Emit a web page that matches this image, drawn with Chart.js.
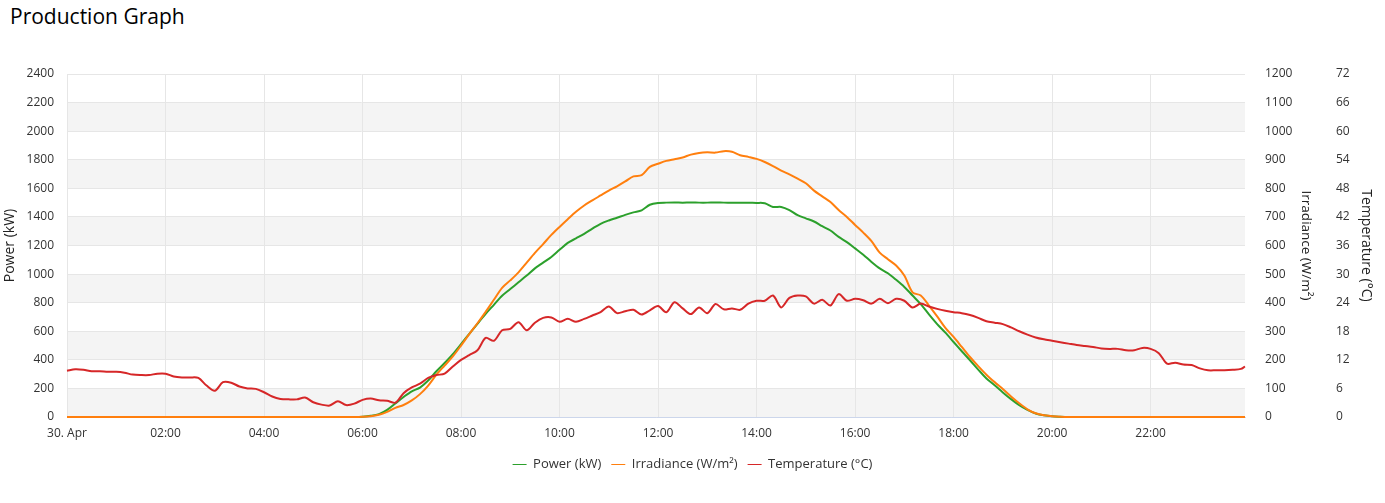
<!DOCTYPE html>
<html>
<head>
<meta charset="utf-8">
<script src="https://cdn.jsdelivr.net/npm/chart.js@4/dist/chart.umd.min.js"></script>
<style>
    body { margin: 0; background: #fff; }
    #title {
        position: absolute; left: 10px; top: 2px;
        font: 21px "Open Sans", sans-serif; color: #000;
    }
    #chart { position: absolute; left: 0; top: 0; }
</style>
</head>
<body>
<div id="title">Production Graph</div>
<canvas id="chart" width="1385" height="503"></canvas>
<script>
// minutes since midnight, every 10 min, last sample 23:55
const times = [];
for (let t = 0; t < 1440; t += 10) times.push(t);
times.push(1435);

// x axis ticks every two hours (minutes)
const xTicks = [0, 120, 240, 360, 480, 600, 720, 840, 960, 1080, 1200, 1320];

const power = [
    0, 0, 0, 0, 0, 0, 0, 0, 0, 0, 0, 0, 0, 0, 0, 0, 0, 0,
    0, 0, 0, 0, 0, 0, 0, 0, 0, 0, 0, 0, 0, 0, 0, 0, 0, 0,
    2, 8, 20, 50, 95, 140, 180, 206, 255, 320, 378, 440,
    510, 582, 652, 722, 785, 848, 895, 943, 990, 1040, 1080, 1120,
    1170, 1218, 1250, 1282, 1318, 1352, 1375, 1394, 1414, 1432, 1446, 1485,
    1498, 1500, 1501, 1500, 1501, 1500, 1500, 1501, 1500, 1500, 1499, 1499,
    1498, 1496, 1470, 1470, 1448, 1412, 1390, 1368, 1335, 1305, 1260, 1224,
    1180, 1135, 1085, 1040, 1006, 960, 910, 850, 790, 718, 650, 590,
    525, 460, 397, 332, 270, 222, 172, 125, 83, 50, 25, 12,
    5, 2, 0, 0, 0, 0, 0, 0, 0, 0, 0, 0,
    0, 0, 0, 0, 0, 0, 0, 0, 0, 0, 0, 0, 0
];

const irradiance = [
    0, 0, 0, 0, 0, 0, 0, 0, 0, 0, 0, 0, 0, 0, 0, 0, 0, 0,
    0, 0, 0, 0, 0, 0, 0, 0, 0, 0, 0, 0, 0, 0, 0, 0, 0, 0,
    1, 3, 8, 18, 32, 42, 58, 80, 110, 148, 180, 212,
    250, 290, 328, 368, 410, 452, 478, 506, 540, 574, 605, 637,
    665, 692, 718, 740, 758, 775, 792, 807, 824, 842, 846, 875,
    886, 896, 902, 908, 918, 924, 926, 925, 930, 928, 916, 910,
    903, 892, 878, 862, 849, 834, 818, 792, 772, 752, 724, 700,
    672, 645, 615, 575, 552, 530, 495, 436, 425, 390, 352, 312,
    280, 245, 210, 178, 148, 122, 98, 72, 48, 27, 13, 6,
    3, 1, 0, 0, 0, 0, 0, 0, 0, 0, 0, 0,
    0, 0, 0, 0, 0, 0, 0, 0, 0, 0, 0, 0, 0
];

const temperature = [
    9.7, 10.0, 9.9, 9.6, 9.6, 9.5, 9.5, 9.3, 8.9, 8.8, 8.8, 9.1,
    9.1, 8.5, 8.3, 8.3, 8.2, 6.6, 5.5, 7.3, 7.2, 6.4, 6.0, 5.9,
    5.2, 4.3, 3.8, 3.7, 3.7, 4.1, 3.1, 2.6, 2.4, 3.3, 2.5, 2.8,
    3.6, 3.9, 3.5, 3.4, 3.0, 5.0, 6.2, 7.0, 8.2, 8.8, 9.1, 10.6,
    12.0, 13.0, 14.0, 16.6, 16.0, 18.2, 18.5, 19.9, 18.2, 19.8, 20.8, 20.9,
    20.0, 20.6, 20.0, 20.6, 21.3, 22.0, 23.2, 21.8, 22.2, 22.5, 21.5, 22.4,
    23.3, 22.0, 24.1, 22.8, 21.6, 23.0, 21.8, 23.7, 22.6, 22.8, 22.5, 23.8,
    24.4, 24.4, 25.5, 23.0, 25.0, 25.5, 25.3, 23.8, 24.6, 23.4, 25.8, 24.4,
    24.8, 24.5, 23.8, 24.8, 23.9, 24.8, 24.4, 23.0, 23.8, 23.2, 22.7, 22.3,
    22.0, 21.8, 21.4, 20.8, 20.1, 19.8, 19.5, 18.8, 18.0, 17.3, 16.7, 16.3,
    16.0, 15.7, 15.4, 15.1, 14.9, 14.7, 14.4, 14.3, 14.3, 14.0, 14.0, 14.5,
    14.3, 13.4, 11.2, 11.4, 11.0, 10.9, 10.2, 9.8, 9.8, 9.8, 9.9, 10.1,
    10.6
];

const seriesNames = ["Power (kW)", "Irradiance (W/m²)", "Temperature (°C)"];
const seriesColors = ["#2ca02c", "#ff7f0e", "#d62728"];

const FONT = '"Open Sans", sans-serif';
const TXT = "#333333";

function toPoints(values) {
    return times.map((t, i) => ({ x: t, y: values[i] }));
}

function timeLabel(v) {
    if (v === 0) return "30. Apr";
    const h = Math.floor(v / 60);
    return (h < 10 ? "0" : "") + h + ":00";
}

// alternating grey bands on the power axis
const bandPlugin = {
    id: "bands",
    beforeDraw(chart) {
        const { ctx, chartArea } = chart;
        const y = chart.scales.y;
        const ticks = y.ticks;
        ctx.save();
        ctx.fillStyle = "#f4f4f4";
        for (let i = 0; i < ticks.length - 1; i += 2) {
            const top = y.getPixelForValue(ticks[i + 1].value);
            const bottom = y.getPixelForValue(ticks[i].value);
            ctx.fillRect(chartArea.left, top, chartArea.right - chartArea.left, bottom - top);
        }
        ctx.restore();
    }
};

const plainNum = v => String(v);

// datasets listed top-most first; legend is reversed back to Power, Irradiance, Temperature
new Chart(document.getElementById("chart"), {
    type: "line",
    data: {
        datasets: [
            { label: seriesNames[2], data: toPoints(temperature), yAxisID: "yTemp",
              borderColor: seriesColors[2], backgroundColor: seriesColors[2] },
            { label: seriesNames[1], data: toPoints(irradiance), yAxisID: "yIrr",
              borderColor: seriesColors[1], backgroundColor: seriesColors[1] },
            { label: seriesNames[0], data: toPoints(power), yAxisID: "y",
              borderColor: seriesColors[0], backgroundColor: seriesColors[0] }
        ]
    },
    options: {
        responsive: false,
        animation: false,
        devicePixelRatio: 1,
        layout: { padding: { left: 0, right: 0, top: 74, bottom: 22 } },
        elements: {
            point: { radius: 0 },
            line: { borderWidth: 2, tension: 0.3 }
        },
        datasets: { line: { clip: false } },
        plugins: {
            tooltip: { enabled: false },
            legend: {
                position: "bottom",
                reverse: true,
                labels: {
                    usePointStyle: true,
                    pointStyle: "line",
                    pointStyleWidth: 14,
                    color: TXT,
                    font: { family: FONT, size: 13 },
                    padding: 10
                }
            }
        },
        scales: {
            x: {
                type: "linear",
                min: 0,
                max: 1435,
                afterFit(scale) { scale.height = 31; },
                afterBuildTicks(scale) { scale.ticks = xTicks.map(v => ({ value: v })); },
                grid: { color: "#e6e6e6", drawTicks: false },
                border: { color: "#ccd6eb" },
                ticks: {
                    maxRotation: 0,
                    autoSkip: false,
                    padding: 9,
                    color: TXT,
                    font: { family: FONT, size: 12 },
                    callback: timeLabel
                }
            },
            y: {
                position: "left",
                min: 0,
                max: 2400,
                afterFit(scale) { scale.width = 67; },
                grid: { color: "#e6e6e6", drawTicks: false },
                border: { display: false },
                ticks: { stepSize: 200, padding: 13, color: TXT, font: { family: FONT, size: 12 }, callback: plainNum },
                title: {
                    display: true, text: seriesNames[0], color: "#222",
                    font: { family: FONT, size: 14 }, padding: { top: 2, bottom: 0 }
                }
            },
            yIrr: {
                position: "right",
                min: 0,
                max: 1200,
                afterFit(scale) { scale.width = 80; },
                grid: { display: false, drawTicks: false },
                border: { display: false },
                ticks: { stepSize: 100, padding: 20, color: TXT, font: { family: FONT, size: 12 }, callback: plainNum },
                title: {
                    display: true, text: seriesNames[1], color: "#222",
                    font: { family: FONT, size: 13.5 }, padding: { top: 11, bottom: 0 }
                }
            },
            yTemp: {
                position: "right",
                min: 0,
                max: 72,
                afterFit(scale) { scale.width = 60; },
                grid: { display: false, drawTicks: false },
                border: { display: false },
                ticks: { stepSize: 6, padding: 11, color: TXT, font: { family: FONT, size: 12 }, callback: plainNum },
                title: {
                    display: true, text: seriesNames[2], color: "#222",
                    font: { family: FONT, size: 14 }, padding: { top: 11, bottom: 0 }
                }
            }
        }
    },
    plugins: [bandPlugin]
});
</script>
</body>
</html>
